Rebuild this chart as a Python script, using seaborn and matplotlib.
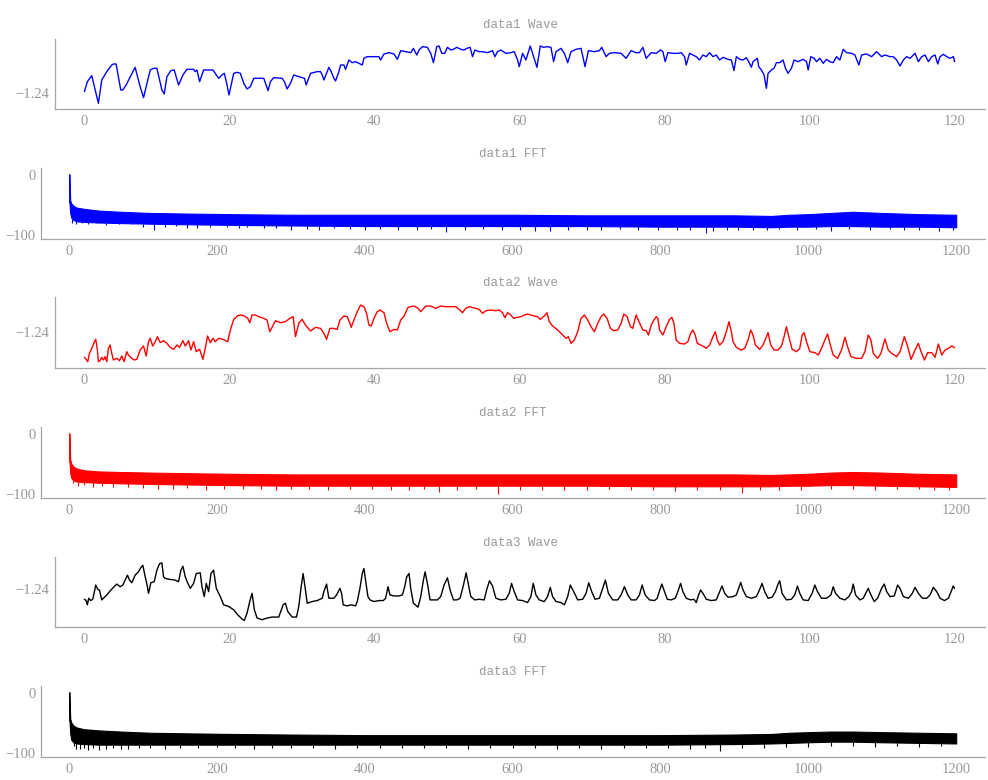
import numpy as np
import matplotlib
matplotlib.use("Agg")
import matplotlib.pyplot as plt
import seaborn as sns
from matplotlib.ticker import FixedLocator, MultipleLocator

# ===== data1 wave (time in s) =====
wave1_t = [0.05, 0.46, 1.06, 1.98, 2.44, 3.13, 3.82, 4.05, 4.42, 5.06, 5.34, 5.80, 7.04, 7.73, 8.20,
           9.12, 9.58, 10.04, 10.73, 11.05, 11.42, 11.97, 12.43, 13.03, 13.63, 14.18, 15.10, 15.33,
           15.56, 15.93, 16.48, 17.31, 17.77, 18.23, 18.55, 19.01, 19.34, 19.71, 19.98, 20.63, 21.09,
           21.55, 22.01, 22.47, 22.93, 23.39, 24.31, 24.77, 25.09, 25.37, 25.69, 26.15, 27.30, 27.62,
           27.99, 28.45, 28.91, 29.60, 30.39, 30.62, 31.22, 32.14, 32.60, 32.83, 33.06, 33.43, 33.75,
           34.07, 34.44, 34.67, 35.13, 35.36, 35.82, 36.05, 36.51, 36.97, 37.43, 37.89, 38.35, 38.58,
           39.04, 39.96, 40.65, 40.88, 41.34, 42.04, 42.73, 43.19, 43.65, 44.34, 45.03, 45.40, 45.86,
           46.18, 46.64, 47.33, 47.79, 48.16, 48.62, 48.94, 49.31, 49.72, 50.09, 50.55, 50.92, 51.38,
           51.93, 52.39, 52.76, 53.22, 53.55, 53.87, 54.47, 54.93, 55.62, 56.31, 56.63, 57.00, 57.46,
           58.15, 58.84, 59.30, 59.76, 59.99, 60.45, 60.91, 61.51, 61.83, 62.43, 62.89, 63.35, 63.81,
           64.36, 64.73, 65.06, 65.75, 66.21, 66.67, 67.13, 67.82, 68.51, 69.06, 69.52, 70.35, 71.04,
           71.36, 71.96, 72.42, 73.11, 74.03, 74.72, 75.41, 76.10, 76.56, 77.03, 77.49, 78.18, 78.87,
           79.47, 79.79, 80.11, 80.48, 81.17, 81.86, 82.32, 82.78, 83.01, 83.47, 83.93, 84.39, 84.85,
           85.31, 85.77, 86.23, 86.69, 87.15, 87.62, 88.08, 88.77, 89.23, 89.59, 89.92, 90.38, 90.84,
           91.30, 91.62, 91.99, 92.22, 92.82, 93.00, 93.37, 93.74, 94.06, 94.29, 94.75, 95.12, 95.44,
           95.90, 96.36, 96.69, 97.05, 97.51, 97.88, 98.43, 99.12, 99.59, 99.82, 100.18, 100.64,
           100.97, 101.43, 101.89, 102.35, 102.81, 103.27, 103.73, 104.19, 104.65, 105.11, 105.80,
           106.26, 106.81, 107.18, 107.87, 108.56, 109.25, 109.94, 110.40, 111.10, 111.56, 112.02,
           112.48, 112.94, 113.40, 113.86, 114.55, 115.01, 115.47, 115.93, 116.39, 116.85, 117.31,
           117.68, 118.00, 118.46, 118.92, 119.38, 119.84, 120.00]
wave1_v = [-1.2395, -1.2365, -1.2347, -1.2430, -1.2360, -1.2335, -1.2315, -1.2312, -1.2312, -1.2390,
           -1.2390, -1.2375, -1.2322, -1.2380, -1.2413, -1.2330, -1.2325, -1.2325, -1.2390, -1.2402,
           -1.2350, -1.2332, -1.2330, -1.2375, -1.2345, -1.2328, -1.2328, -1.2335, -1.2330, -1.2365,
           -1.2330, -1.2330, -1.2330, -1.2345, -1.2355, -1.2345, -1.2340, -1.2375, -1.2405, -1.2340,
           -1.2337, -1.2340, -1.2370, -1.2387, -1.2380, -1.2355, -1.2355, -1.2355, -1.2375, -1.2392,
           -1.2365, -1.2353, -1.2355, -1.2365, -1.2387, -1.2370, -1.2345, -1.2350, -1.2355, -1.2375,
           -1.2340, -1.2335, -1.2335, -1.2345, -1.2360, -1.2340, -1.2322, -1.2335, -1.2355, -1.2363,
           -1.2335, -1.2315, -1.2315, -1.2328, -1.2300, -1.2308, -1.2305, -1.2310, -1.2315, -1.2295,
           -1.2290, -1.2290, -1.2290, -1.2300, -1.2282, -1.2278, -1.2282, -1.2298, -1.2272, -1.2275,
           -1.2278, -1.2265, -1.2285, -1.2270, -1.2260, -1.2262, -1.2280, -1.2308, -1.2260, -1.2258,
           -1.2280, -1.2280, -1.2262, -1.2270, -1.2268, -1.2262, -1.2268, -1.2270, -1.2265, -1.2262,
           -1.2290, -1.2270, -1.2275, -1.2275, -1.2278, -1.2272, -1.2290, -1.2275, -1.2270, -1.2280,
           -1.2278, -1.2275, -1.2300, -1.2320, -1.2280, -1.2300, -1.2258, -1.2280, -1.2322, -1.2258,
           -1.2262, -1.2260, -1.2262, -1.2305, -1.2275, -1.2265, -1.2280, -1.2308, -1.2275, -1.2268,
           -1.2265, -1.2320, -1.2272, -1.2275, -1.2272, -1.2262, -1.2290, -1.2280, -1.2278, -1.2280,
           -1.2295, -1.2272, -1.2278, -1.2278, -1.2262, -1.2295, -1.2278, -1.2280, -1.2270, -1.2275,
           -1.2305, -1.2278, -1.2280, -1.2280, -1.2278, -1.2290, -1.2315, -1.2280, -1.2285, -1.2290,
           -1.2300, -1.2285, -1.2290, -1.2278, -1.2290, -1.2285, -1.2300, -1.2292, -1.2298, -1.2300,
           -1.2332, -1.2290, -1.2298, -1.2300, -1.2293, -1.2305, -1.2322, -1.2305, -1.2295, -1.2320,
           -1.2330, -1.2345, -1.2385, -1.2340, -1.2330, -1.2325, -1.2308, -1.2308, -1.2300, -1.2325,
           -1.2340, -1.2325, -1.2300, -1.2305, -1.2298, -1.2305, -1.2330, -1.2290, -1.2295, -1.2305,
           -1.2295, -1.2310, -1.2298, -1.2305, -1.2308, -1.2290, -1.2300, -1.2268, -1.2278, -1.2280,
           -1.2285, -1.2315, -1.2285, -1.2282, -1.2290, -1.2275, -1.2290, -1.2285, -1.2290, -1.2290,
           -1.2300, -1.2318, -1.2300, -1.2290, -1.2295, -1.2280, -1.2305, -1.2290, -1.2285, -1.2305,
           -1.2290, -1.2285, -1.2312, -1.2290, -1.2283, -1.2290, -1.2295, -1.2290, -1.2305]

# ===== data2 wave =====
wave2_t = [0.05, 0.28, 0.51, 0.74, 1.06, 1.43, 1.61, 1.84, 1.98, 2.21, 2.44, 2.67, 2.90, 3.13, 3.36,
           3.59, 3.82, 4.05, 4.51, 4.88, 5.20, 5.52, 5.89, 6.12, 6.58, 6.91, 7.27, 7.73, 8.20, 8.56,
           8.89, 9.12, 9.48, 9.81, 10.13, 10.50, 10.96, 11.42, 11.88, 12.34, 12.80, 13.17, 13.63,
           13.95, 14.41, 14.73, 15.10, 15.47, 15.93, 16.39, 16.71, 17.03, 17.40, 17.77, 18.09, 18.55,
           19.15, 19.80, 20.17, 20.63, 21.18, 21.64, 22.10, 22.56, 22.84, 23.16, 23.62, 24.08, 24.77,
           25.23, 25.60, 25.92, 26.38, 27.07, 27.76, 28.36, 28.82, 29.14, 29.60, 30.06, 30.52, 31.22,
           31.91, 32.60, 33.06, 33.43, 33.89, 34.35, 34.90, 35.27, 35.82, 36.28, 36.65, 36.83, 37.20,
           37.66, 38.12, 38.58, 38.95, 39.27, 39.59, 39.96, 40.42, 40.79, 41.34, 41.71, 42.17, 42.73,
           43.19, 43.65, 44.11, 44.66, 45.03, 45.49, 46.04, 46.41, 47.10, 47.79, 48.48, 49.17, 49.86,
           50.55, 51.24, 51.70, 52.16, 52.62, 53.08, 54.01, 54.47, 54.93, 55.39, 56.08, 56.77, 57.23,
           57.69, 58.01, 58.38, 58.84, 59.21, 59.67, 60.22, 60.68, 61.14, 61.60, 62.06, 62.52, 62.89,
           63.44, 63.81, 64.13, 64.59, 65.29, 65.98, 66.44, 66.76, 67.13, 67.59, 68.05, 68.51, 68.97,
           69.43, 69.89, 70.35, 70.81, 71.27, 71.64, 72.10, 72.56, 73.02, 73.57, 74.03, 74.40, 74.86,
           75.32, 75.64, 76.10, 76.56, 77.03, 77.49, 77.81, 78.18, 78.55, 78.87, 79.10, 79.33, 79.79,
           80.25, 80.71, 81.03, 81.31, 81.63, 82.09, 82.78, 83.24, 83.61, 83.93, 84.25, 84.53, 84.99,
           85.45, 85.77, 86.23, 86.69, 87.02, 87.29, 87.62, 88.08, 88.54, 88.90, 89.23, 89.46, 89.92,
           90.38, 90.61, 91.07, 91.53, 91.90, 92.22, 92.54, 93.14, 93.60, 93.97, 94.29, 94.66, 95.12,
           95.67, 96.13, 96.50, 96.82, 97.15, 97.61, 98.20, 98.66, 98.99, 99.26, 99.59, 100.05,
           100.74, 101.20, 101.66, 102.12, 102.49, 102.81, 103.27, 103.87, 104.42, 104.88, 105.25,
           105.71, 106.49, 107.18, 107.64, 108.10, 108.47, 108.79, 109.39, 109.85, 110.40, 110.86,
           111.33, 112.02, 112.48, 113.08, 113.54, 114.00, 114.55, 115.01, 115.38, 115.84, 116.30,
           116.85, 117.31, 117.77, 118.23, 118.69, 119.15, 119.61, 120.00]
wave2_v = [-1.2475, -1.2481, -1.2488, -1.2463, -1.2448, -1.2428, -1.2421, -1.2453, -1.2488, -1.2485,
           -1.2475, -1.2483, -1.2473, -1.2488, -1.2448, -1.2438, -1.2463, -1.2483, -1.2478, -1.2485,
           -1.2471, -1.2488, -1.2458, -1.2468, -1.2478, -1.2483, -1.2481, -1.2453, -1.2441, -1.2471,
           -1.2428, -1.2418, -1.2441, -1.2428, -1.2413, -1.2431, -1.2425, -1.2433, -1.2445, -1.2451,
           -1.2438, -1.2445, -1.2425, -1.2441, -1.2425, -1.2453, -1.2428, -1.2458, -1.2451, -1.2481,
           -1.2448, -1.2411, -1.2431, -1.2418, -1.2428, -1.2418, -1.2421, -1.2428, -1.2393, -1.2361,
           -1.2350, -1.2348, -1.2351, -1.2358, -1.2371, -1.2348, -1.2348, -1.2353, -1.2358, -1.2363,
           -1.2398, -1.2385, -1.2365, -1.2371, -1.2368, -1.2358, -1.2353, -1.2413, -1.2373, -1.2361,
           -1.2378, -1.2396, -1.2385, -1.2388, -1.2403, -1.2421, -1.2388, -1.2388, -1.2391, -1.2363,
           -1.2351, -1.2353, -1.2373, -1.2385, -1.2363, -1.2338, -1.2318, -1.2323, -1.2343, -1.2378,
           -1.2381, -1.2358, -1.2338, -1.2333, -1.2341, -1.2373, -1.2398, -1.2391, -1.2393, -1.2363,
           -1.2351, -1.2325, -1.2323, -1.2321, -1.2328, -1.2338, -1.2321, -1.2321, -1.2328, -1.2321,
           -1.2323, -1.2323, -1.2323, -1.2331, -1.2341, -1.2328, -1.2323, -1.2328, -1.2331, -1.2343,
           -1.2335, -1.2333, -1.2335, -1.2333, -1.2341, -1.2356, -1.2341, -1.2348, -1.2358, -1.2355,
           -1.2353, -1.2348, -1.2345, -1.2348, -1.2351, -1.2353, -1.2361, -1.2351, -1.2341, -1.2368,
           -1.2381, -1.2393, -1.2408, -1.2418, -1.2413, -1.2433, -1.2423, -1.2398, -1.2358, -1.2348,
           -1.2363, -1.2383, -1.2398, -1.2373, -1.2353, -1.2345, -1.2358, -1.2388, -1.2395, -1.2393,
           -1.2373, -1.2345, -1.2353, -1.2383, -1.2388, -1.2348, -1.2371, -1.2393, -1.2395, -1.2408,
           -1.2378, -1.2363, -1.2353, -1.2358, -1.2393, -1.2408, -1.2383, -1.2361, -1.2355, -1.2373,
           -1.2423, -1.2433, -1.2435, -1.2428, -1.2403, -1.2393, -1.2408, -1.2433, -1.2438, -1.2443,
           -1.2448, -1.2438, -1.2413, -1.2398, -1.2423, -1.2438, -1.2428, -1.2398, -1.2368, -1.2398,
           -1.2428, -1.2445, -1.2451, -1.2453, -1.2448, -1.2423, -1.2393, -1.2408, -1.2438, -1.2451,
           -1.2438, -1.2418, -1.2401, -1.2438, -1.2453, -1.2453, -1.2441, -1.2413, -1.2383, -1.2413,
           -1.2451, -1.2458, -1.2448, -1.2408, -1.2401, -1.2428, -1.2458, -1.2461, -1.2468, -1.2448,
           -1.2423, -1.2405, -1.2433, -1.2468, -1.2478, -1.2453, -1.2415, -1.2443, -1.2473, -1.2478,
           -1.2478, -1.2458, -1.2408, -1.2423, -1.2463, -1.2478, -1.2463, -1.2420, -1.2453, -1.2463,
           -1.2473, -1.2458, -1.2413, -1.2443, -1.2481, -1.2453, -1.2433, -1.2458, -1.2483, -1.2461,
           -1.2461, -1.2475, -1.2435, -1.2468, -1.2453, -1.2448, -1.2441, -1.2446]

# ===== data3 wave =====
wave3_t = [0.05, 0.28, 0.46, 0.64, 0.92, 1.20, 1.43, 1.61, 1.89, 2.12, 2.44, 2.67, 3.13, 3.59, 4.05,
           4.51, 4.97, 5.34, 5.66, 5.99, 6.26, 6.58, 7.04, 7.50, 7.83, 8.10, 8.43, 8.66, 8.89, 9.21,
           9.67, 10.04, 10.41, 10.73, 10.96, 11.19, 11.88, 12.57, 13.03, 13.35, 13.63, 13.95, 14.27,
           14.64, 15.10, 15.47, 16.02, 16.25, 16.57, 16.85, 17.17, 17.50, 17.86, 18.23, 18.78, 19.24,
           19.94, 20.63, 21.18, 21.78, 22.10, 22.47, 22.84, 23.16, 23.48, 23.85, 24.54, 25.23, 25.92,
           26.84, 27.44, 27.76, 28.08, 28.68, 29.28, 29.60, 29.93, 30.20, 30.52, 30.76, 31.45, 32.14,
           32.83, 33.06, 33.43, 33.75, 34.44, 34.81, 35.27, 35.50, 35.73, 36.28, 36.83, 37.43, 37.66,
           38.03, 38.35, 38.58, 38.81, 39.13, 39.41, 39.96, 40.65, 41.25, 41.57, 41.90, 42.17, 42.73,
           43.42, 43.88, 44.20, 44.48, 44.80, 45.03, 45.40, 46.04, 46.41, 46.78, 47.01, 47.33, 47.70,
           48.25, 48.71, 49.17, 49.63, 50.09, 50.46, 50.92, 51.38, 51.84, 52.30, 52.67, 52.95, 53.31,
           53.87, 54.47, 55.16, 55.52, 55.89, 56.31, 56.77, 57.46, 58.15, 58.61, 58.93, 59.30, 59.76,
           60.45, 61.14, 61.60, 61.92, 62.29, 62.75, 63.44, 63.90, 64.27, 64.59, 65.06, 65.75, 66.21,
           66.67, 67.03, 67.50, 68.05, 68.74, 69.20, 69.57, 69.98, 70.44, 71.04, 71.50, 71.87, 72.28,
           72.88, 73.57, 74.03, 74.49, 74.95, 75.41, 76.10, 76.56, 76.93, 77.35, 77.95, 78.64, 79.01,
           79.33, 79.65, 80.02, 80.39, 80.94, 81.49, 81.86, 82.23, 82.55, 83.01, 83.61, 84.07, 84.39,
           84.71, 84.99, 85.31, 85.77, 86.46, 87.15, 87.62, 87.94, 88.31, 88.77, 89.46, 89.92, 90.24,
           90.52, 90.84, 91.30, 91.99, 92.68, 93.14, 93.46, 93.83, 94.29, 94.84, 95.30, 95.67, 95.90,
           96.22, 96.82, 97.51, 97.97, 98.34, 98.66, 99.12, 99.82, 100.37, 100.74, 101.10, 101.66,
           102.35, 102.95, 103.27, 103.59, 104.19, 104.88, 105.43, 105.80, 106.03, 106.35, 106.95,
           107.41, 107.87, 108.10, 108.47, 108.93, 109.39, 109.94, 110.31, 110.64, 111.10, 111.69,
           112.15, 112.48, 112.94, 113.63, 114.18, 114.55, 115.01, 115.56, 116.16, 116.62, 117.08,
           117.54, 118.00, 118.60, 119.15, 119.61, 119.80, 120.00]
wave3_v = [-1.2430, -1.2434, -1.2447, -1.2427, -1.2434, -1.2430, -1.2407, -1.2387, -1.2400, -1.2402,
           -1.2432, -1.2427, -1.2417, -1.2405, -1.2394, -1.2384, -1.2392, -1.2387, -1.2372, -1.2357,
           -1.2372, -1.2380, -1.2357, -1.2347, -1.2334, -1.2327, -1.2362, -1.2384, -1.2412, -1.2380,
           -1.2377, -1.2342, -1.2322, -1.2320, -1.2362, -1.2367, -1.2370, -1.2372, -1.2377, -1.2342,
           -1.2330, -1.2362, -1.2380, -1.2397, -1.2382, -1.2352, -1.2350, -1.2392, -1.2422, -1.2382,
           -1.2407, -1.2352, -1.2342, -1.2397, -1.2422, -1.2447, -1.2452, -1.2462, -1.2477, -1.2490,
           -1.2494, -1.2472, -1.2437, -1.2412, -1.2462, -1.2487, -1.2492, -1.2487, -1.2484, -1.2484,
           -1.2447, -1.2442, -1.2467, -1.2484, -1.2484, -1.2452, -1.2392, -1.2352, -1.2402, -1.2442,
           -1.2437, -1.2434, -1.2427, -1.2407, -1.2384, -1.2427, -1.2427, -1.2417, -1.2397, -1.2412,
           -1.2447, -1.2450, -1.2447, -1.2450, -1.2437, -1.2397, -1.2352, -1.2337, -1.2372, -1.2422,
           -1.2432, -1.2437, -1.2434, -1.2434, -1.2427, -1.2392, -1.2417, -1.2420, -1.2420, -1.2417,
           -1.2392, -1.2362, -1.2352, -1.2397, -1.2442, -1.2454, -1.2422, -1.2372, -1.2347, -1.2382,
           -1.2432, -1.2432, -1.2432, -1.2422, -1.2387, -1.2365, -1.2402, -1.2432, -1.2432, -1.2427,
           -1.2387, -1.2350, -1.2382, -1.2422, -1.2432, -1.2430, -1.2432, -1.2400, -1.2374, -1.2390,
           -1.2427, -1.2432, -1.2430, -1.2412, -1.2382, -1.2407, -1.2432, -1.2434, -1.2440, -1.2422,
           -1.2382, -1.2417, -1.2432, -1.2437, -1.2422, -1.2394, -1.2422, -1.2437, -1.2440, -1.2447,
           -1.2422, -1.2387, -1.2407, -1.2432, -1.2430, -1.2412, -1.2380, -1.2407, -1.2430, -1.2427,
           -1.2397, -1.2372, -1.2412, -1.2432, -1.2432, -1.2417, -1.2392, -1.2417, -1.2432, -1.2432,
           -1.2417, -1.2387, -1.2417, -1.2432, -1.2434, -1.2427, -1.2404, -1.2384, -1.2407, -1.2430,
           -1.2432, -1.2427, -1.2407, -1.2382, -1.2407, -1.2427, -1.2432, -1.2430, -1.2440, -1.2417,
           -1.2402, -1.2412, -1.2430, -1.2434, -1.2432, -1.2407, -1.2390, -1.2412, -1.2424, -1.2422,
           -1.2417, -1.2397, -1.2379, -1.2402, -1.2422, -1.2427, -1.2422, -1.2400, -1.2382, -1.2407,
           -1.2427, -1.2424, -1.2407, -1.2384, -1.2374, -1.2412, -1.2432, -1.2430, -1.2417, -1.2390,
           -1.2412, -1.2432, -1.2434, -1.2412, -1.2387, -1.2407, -1.2427, -1.2427, -1.2417, -1.2392,
           -1.2412, -1.2427, -1.2432, -1.2422, -1.2407, -1.2384, -1.2417, -1.2432, -1.2427, -1.2407,
           -1.2397, -1.2417, -1.2437, -1.2427, -1.2397, -1.2384, -1.2407, -1.2422, -1.2420, -1.2387,
           -1.2397, -1.2422, -1.2427, -1.2412, -1.2394, -1.2412, -1.2427, -1.2427, -1.2417, -1.2394,
           -1.2407, -1.2427, -1.2434, -1.2427, -1.2402, -1.2390, -1.2397]

# ===== FFT spectra (dB): band envelopes =====
fft_freq = [0, 0.5, 1.5, 3, 6, 10, 20, 40, 70, 110, 160, 220, 300, 400, 500, 600, 700, 800,
            900, 950, 975, 1000, 1030, 1060, 1100, 1150, 1200]
fft1_upper = [2, 2, -42, -47, -51, -54, -56, -59, -61, -63, -64, -65, -66, -66, -66, -66, -67,
              -67, -67, -68, -66, -65, -63, -61, -63, -65, -66]
fft1_lower = [-45, -45, -63, -71, -75, -77, -78, -79, -80, -81, -82, -83, -84, -85, -85, -85,
              -85, -86, -86, -87, -86, -86, -85, -85, -86, -86, -87]
fft2_upper = [2, 2, -42, -49, -54, -57, -60, -62, -63, -64, -65, -66, -67, -67, -67, -67, -67,
              -67, -67, -68, -67, -66, -64, -63, -64, -66, -67]
fft2_lower = [-45, -45, -65, -73, -77, -79, -80, -81, -82, -83, -84, -85, -86, -86, -86, -86,
              -86, -87, -87, -87, -86, -86, -85, -85, -86, -87, -88]
fft3_upper = [2, 2, -42, -49, -54, -57, -60, -62, -64, -66, -67, -68, -69, -70, -70, -70, -70,
              -70, -69, -68, -66, -65, -64, -64, -65, -66, -67]
fft3_lower = [-45, -45, -67, -78, -82, -84, -85, -86, -86, -86, -86, -86, -86, -86, -86, -86,
              -86, -86, -85, -84, -83, -82, -81, -81, -82, -83, -84]

# downward spikes below the band (frequency, dB)
fft1_spike_f = [4, 10, 17, 25, 38, 50, 67, 85, 100, 115, 130, 144, 160, 173, 190, 214, 230, 241,
                263, 280, 300, 322, 338, 358, 380, 400, 420, 445, 470, 490, 510, 535, 560, 585,
                610, 630, 650, 675, 700, 720, 745, 770, 797, 822, 840, 862, 871, 890, 905, 925,
                944, 960, 985, 1010, 1030, 1055, 1084, 1110, 1130, 1150, 1177, 1195]
fft1_spike_v = [-80, -82, -80, -81, -80, -84, -82, -82, -86, -91, -87, -85, -88, -89, -87, -86,
                -88, -87, -89, -88, -91, -90, -91, -89, -90, -91, -90, -92, -91, -90, -95, -91,
                -90, -92, -91, -93, -94, -91, -91, -92, -90, -91, -91, -91, -92, -97, -93, -91,
                -91, -91, -92, -90, -91, -90, -93, -90, -91, -90, -91, -91, -93, -91]
fft2_spike_f = [5, 12, 20, 32, 45, 60, 80, 100, 120, 140, 160, 185, 210, 235, 260, 280, 300,
                325, 350, 380, 410, 435, 460, 480, 500, 525, 550, 580, 610, 640, 670, 700, 730,
                760, 790, 820, 850, 880, 910, 935, 960, 990, 1030, 1060, 1090, 1120, 1150, 1170,
                1190]
fft2_spike_v = [-82, -86, -84, -88, -87, -89, -88, -90, -92, -91, -90, -93, -91, -92, -92, -93,
                -92, -92, -93, -92, -92, -93, -94, -92, -96, -93, -92, -100, -93, -93, -94, -94,
                -92, -93, -94, -95, -93, -93, -99, -93, -94, -93, -92, -91, -93, -92, -92, -93,
                -94]
fft3_spike_f = [6, 10, 15, 20, 25, 32, 40, 50, 60, 70, 80, 95, 110, 130, 150, 175, 200, 225,
                250, 275, 300, 330, 360, 390, 420, 450, 480, 510, 540, 570, 600, 630, 660, 690,
                720, 750, 780, 810, 840, 860, 880, 910, 940, 970, 1000, 1030, 1060, 1090, 1120,
                1150, 1180]
fft3_spike_v = [-89, -93, -93, -91, -95, -92, -95, -93, -91, -94, -93, -92, -91, -93, -92, -91,
                -90, -92, -93, -91, -91, -92, -93, -91, -92, -91, -91, -92, -93, -91, -92, -92,
                -93, -91, -94, -92, -92, -91, -93, -91, -96, -91, -91, -90, -90, -89, -89, -90,
                -89, -90, -89]

titles = ["data1 Wave", "data1 FFT", "data2 Wave", "data2 FFT", "data3 Wave", "data3 FFT"]
colors = ["#0000ff", "#ff0000", "#000000"]

sns.set_style("white")
plt.rcParams['font.family'] = ['Liberation Serif', 'DejaVu Sans']

GRAY = "#a6a6a6"
TXT = "#999999"

fig = plt.figure(figsize=(9.88, 7.8), dpi=100)

wave_boxes = [[0.0557, 0.8603, 0.9413, 0.0897],
              [0.0557, 0.5282, 0.9413, 0.0910],
              [0.0557, 0.1962, 0.9413, 0.0897]]
fft_boxes = [[0.0415, 0.6936, 0.9555, 0.0910],
             [0.0415, 0.3615, 0.9555, 0.0910],
             [0.0415, 0.0295, 0.9555, 0.0910]]

waves = [(wave1_t, wave1_v), (wave2_t, wave2_v), (wave3_t, wave3_v)]
wave_ylims = [(-1.2447, -1.2237), (-1.2507, -1.2294), (-1.2514, -1.2302)]
wave_minor = [[-1.2360, -1.2325, -1.2285, -1.2247],
              [-1.2318, -1.2346, -1.2373, -1.2426, -1.2453, -1.2483],
              [-1.2349, -1.2448, -1.2497]]
ffts = [(fft1_upper, fft1_lower, fft1_spike_f, fft1_spike_v),
        (fft2_upper, fft2_lower, fft2_spike_f, fft2_spike_v),
        (fft3_upper, fft3_lower, fft3_spike_f, fft3_spike_v)]


def style_axes(ax, title):
    for side in ["top", "right"]:
        ax.spines[side].set_visible(False)
    for side in ["left", "bottom"]:
        ax.spines[side].set_color(GRAY)
        ax.spines[side].set_linewidth(0.9)
    ax.tick_params(which="major", direction="in", length=3.5, width=0.8, color=GRAY,
                   labelcolor=TXT, labelsize=10.5, pad=4)
    ax.tick_params(which="minor", direction="in", length=2.2, width=0.7, color=GRAY)
    ax.set_title(title, fontsize=9, color=TXT, family=["Liberation Mono"], pad=8)
    ax.set_xlabel("")
    ax.set_ylabel("")


for i in range(3):
    c = colors[i]
    # ----- wave -----
    ax = fig.add_axes(wave_boxes[i])
    t, v = waves[i]
    sns.lineplot(x=t, y=v, ax=ax, color=c, linewidth=1.0, sort=False, estimator=None)
    ax.set_xlim(-4.0, 124.2)
    ax.set_ylim(*wave_ylims[i])
    ax.xaxis.set_major_locator(MultipleLocator(20))
    ax.xaxis.set_minor_locator(MultipleLocator(10))
    ax.yaxis.set_major_locator(FixedLocator([-1.24]))
    ax.yaxis.set_minor_locator(FixedLocator(wave_minor[i]))
    ax.set_yticklabels(["\u22121.24"])
    style_axes(ax, titles[2 * i])

    # ----- fft -----
    ax = fig.add_axes(fft_boxes[i])
    up, lo, sf, sv = ffts[i]
    ax.fill_between(fft_freq, lo, up, color=c, edgecolor=c, linewidth=0.8)
    top = np.interp(sf, fft_freq, lo)
    ax.vlines(sf, sv, top, color=c, linewidth=0.8)
    ax.set_xlim(-38, 1239)
    ax.set_ylim(-106.7, 12.5)
    ax.xaxis.set_major_locator(MultipleLocator(200))
    ax.xaxis.set_minor_locator(MultipleLocator(100))
    ax.yaxis.set_major_locator(FixedLocator([0, -100]))
    ax.yaxis.set_minor_locator(FixedLocator([-20, -40, -60, -80]))
    ax.set_yticklabels(["0", "\u2212100"])
    style_axes(ax, titles[2 * i + 1])

fig.savefig("out.png", dpi=100)
